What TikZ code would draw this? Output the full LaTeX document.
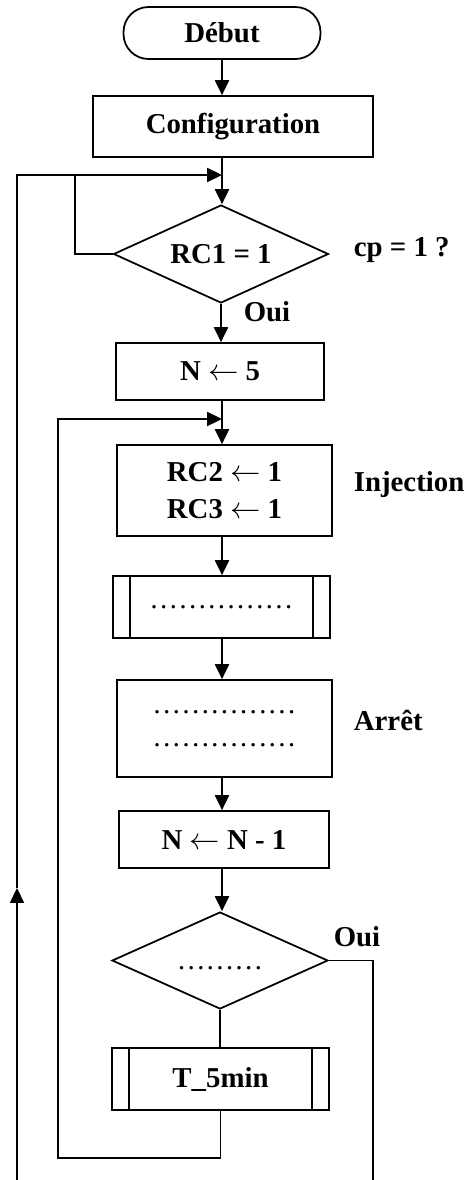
\documentclass[tikz,border=0pt]{standalone}
\usepackage{fontspec}
\setmainfont{Liberation Serif}
\usetikzlibrary{shapes.geometric, arrows.meta}

\begin{document}
\begin{tikzpicture}[x=0.02cm, y=-0.02cm, line width=1pt,
    >={Triangle[length=8.5pt, width=8pt]},
    every node/.style={font=\fontsize{16.4}{21.5}\selectfont\bfseries},
    terminal/.style={draw, rectangle, rounded corners=0.5cm, inner sep=0},
    process/.style={draw, rectangle, inner sep=0, align=center},
    decision/.style={draw, diamond, inner sep=0, aspect=2.2},
    subproc/.style={draw, rectangle, inner sep=0},
    dotline/.style={font=\fontsize{16.4}{18.7}\selectfont\mdseries},
    sidelabel/.style={anchor=west, inner sep=0}]
    \useasboundingbox (0,0) rectangle (466,1180);

    % Main column
    \node[terminal, minimum width=3.94cm, minimum height=1.04cm] (debut) at (222,33) {Début};
    \node[process, minimum width=5.6cm, minimum height=1.22cm] (config) at (233,126.5) {Configuration};
    \node[decision, minimum width=4.3cm, minimum height=1.96cm] (rc1) at (221,254) {\raisebox{-4pt}{RC1 = 1}};
    \node[process, minimum width=4.16cm, minimum height=1.14cm] (n5) at (220,371.5) {N $\leftarrow$ 5};
    \node[process, minimum width=4.3cm, minimum height=1.82cm] (rc23) at (224.5,490.5) {RC2 $\leftarrow$ 1\\RC3 $\leftarrow$ 1};
    \node[subproc, dotline, minimum width=4.34cm, minimum height=1.24cm] (sub1) at (221.5,607) {……………};
    \node[process, dotline, minimum width=4.3cm, minimum height=1.94cm] (arret) at (224.5,728.5) {……………\\……………};
    \node[process, minimum width=4.2cm, minimum height=1.14cm] (nn) at (224,839.5) {N $\leftarrow$ N - 1};
    \node[decision, dotline, minimum width=4.32cm, minimum height=1.94cm] (test) at (220,960.5) {\raisebox{-10pt}{………}};
    \node[subproc, minimum width=4.34cm, minimum height=1.24cm] (t5) at (220.5,1079) {T\_5min};

    % Side bars of the sub-process boxes
    \foreach \s in {sub1, t5} {
        \draw ([shift={(18,0)}]\s.north west) -- ([shift={(18,0)}]\s.south west);
        \draw ([shift={(-18,0)}]\s.north east) -- ([shift={(-18,0)}]\s.south east);
    }

    % Labels
    \node[sidelabel] (cp) at (353,250) {cp = 1 ?};
    \node (oui1) at (267,312) {Oui};
    \node[sidelabel] (inj) at (353,485) {Injection};
    \node[sidelabel] (arr) at (353,720) {Arrêt};
    \node (oui2) at (357,937) {Oui};

    % Junctions
    \coordinate (j1) at (222,175);
    \coordinate (k1) at (75,175);
    \coordinate (j2) at (222,419);
    \coordinate (b2) at (58,1158);
    \coordinate (up) at (17,888);
    \coordinate (botL) at (17,1180);
    \coordinate (botR) at (373,1180);

    % Connectors
    \draw[->] (debut.south) -- (debut.south |- config.north);
    \draw[->] (config.south -| j1) -- (rc1.north -| j1);
    \draw[->] (rc1.south) -- (rc1.south |- n5.north);
    \draw[->] (n5.south -| j2) -- (rc23.north -| j2);
    \draw[->] (rc23.south -| j2) -- (sub1.north -| j2);
    \draw[->] (sub1.south -| j2) -- (arret.north -| j2);
    \draw[->] (arret.south -| j2) -- (nn.north -| j2);
    \draw[->] (nn.south -| j2) -- (test.north -| j2);
    \draw (test.south) -- (test.south |- t5.north);

    % Loops
    \draw (rc1.west) -| (k1);
    \draw[->] (botL) -- (up);
    \draw[->] (up) |- (j1);
    \draw[->] (t5.south) |- (b2) |- (j2);
    \draw (test.east) -| (botR);
\end{tikzpicture}
\end{document}
